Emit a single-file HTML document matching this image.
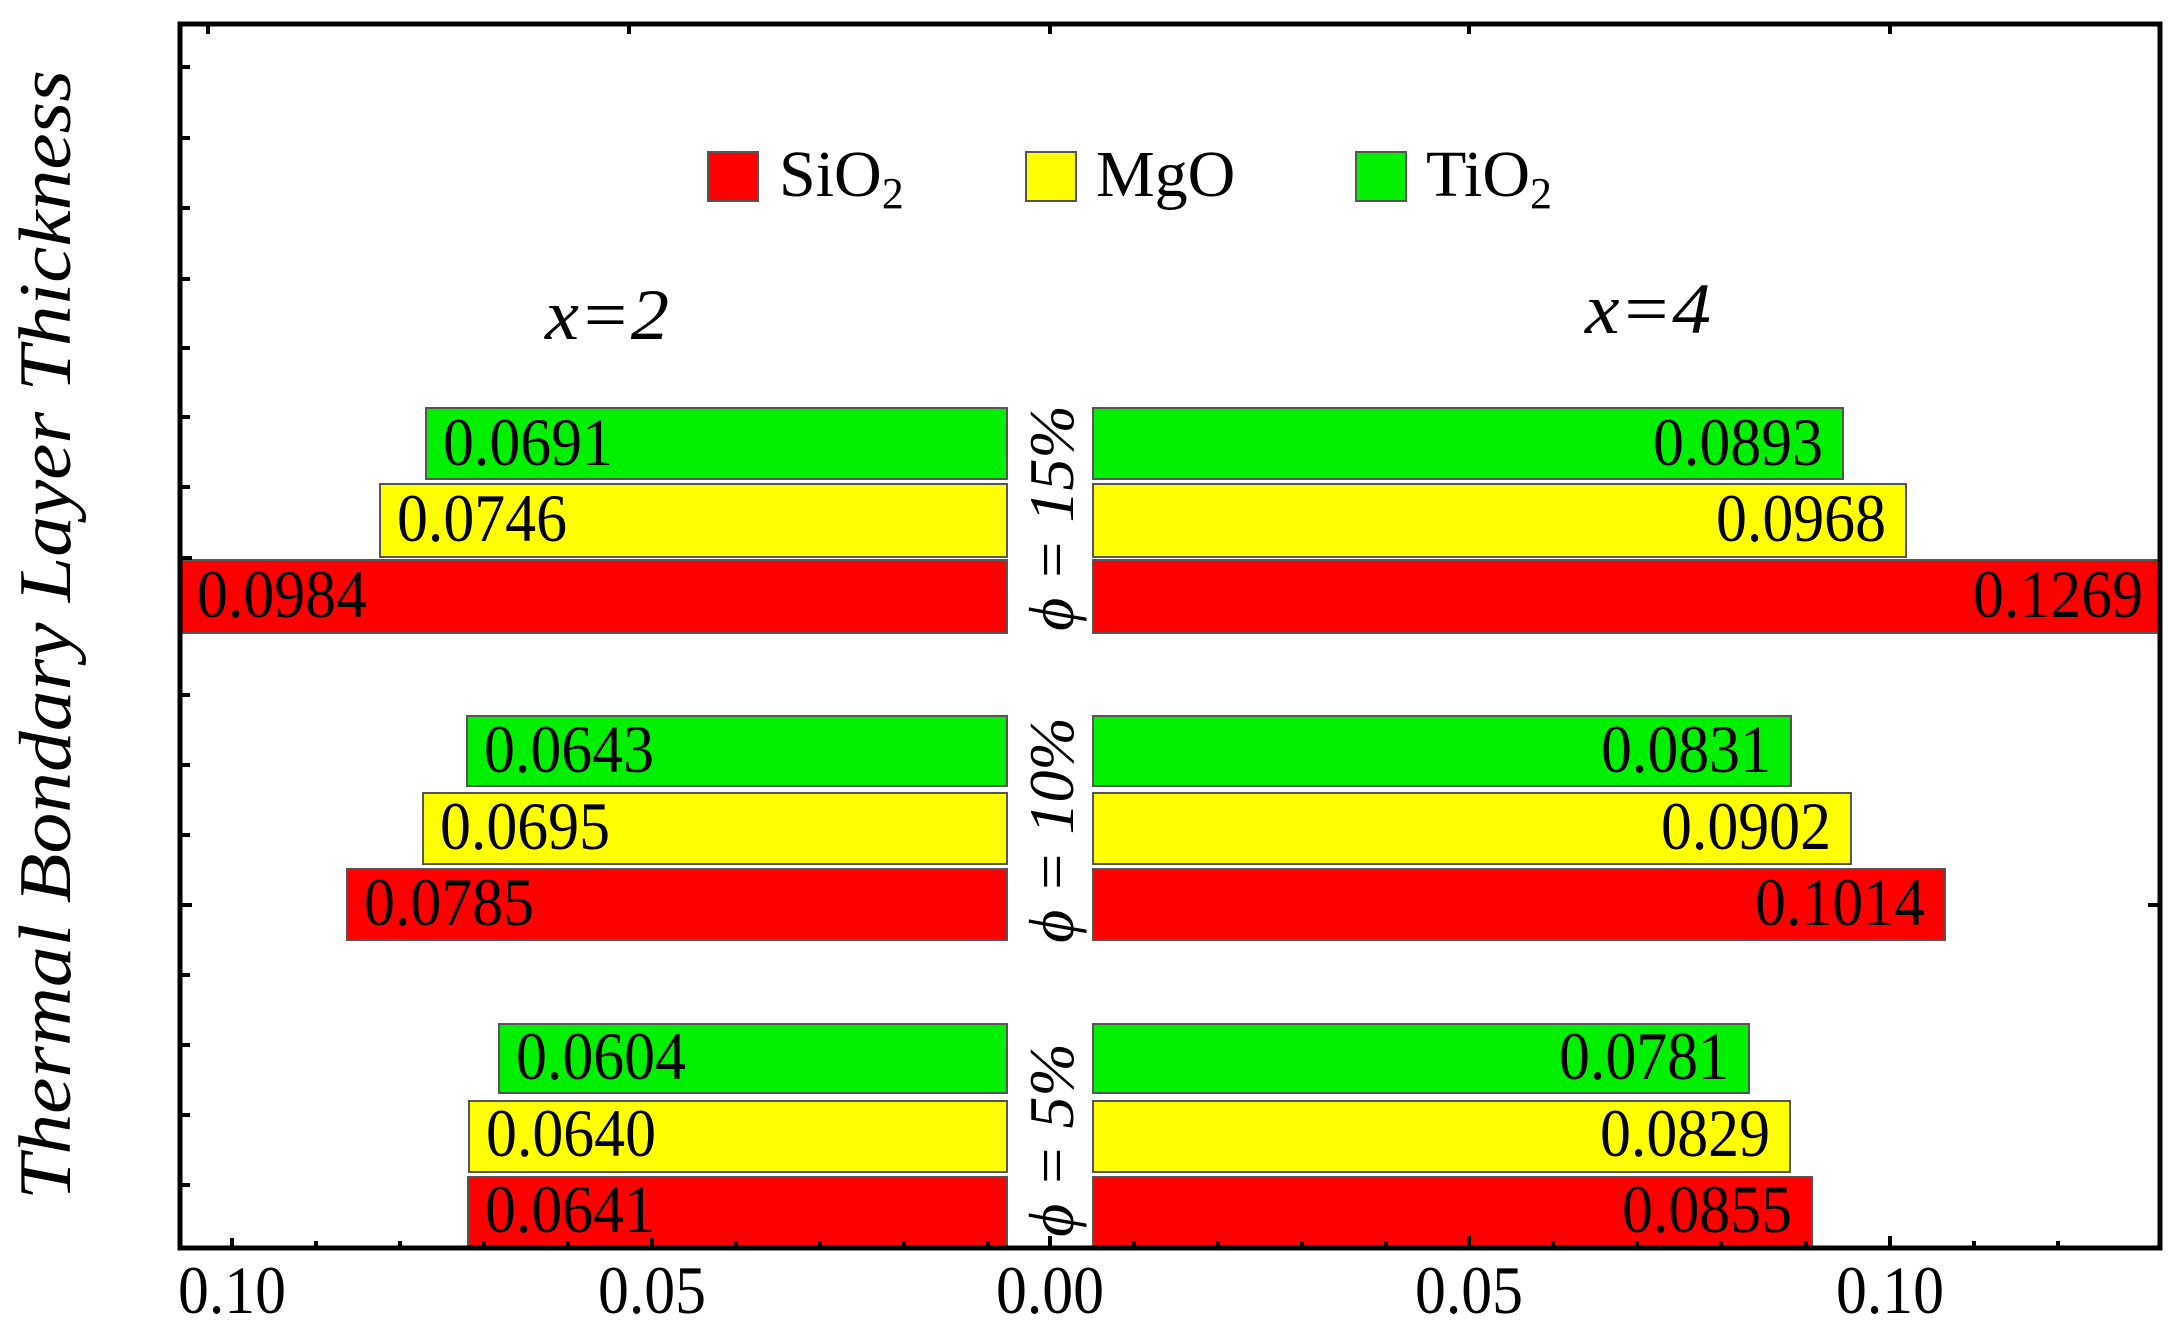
<!DOCTYPE html>
<html><head><meta charset="utf-8"><style>html,body{margin:0;padding:0;background:#fff}svg{display:block}</style></head>
<body>
<svg width="2175" height="1341" viewBox="0 0 2175 1341" xmlns="http://www.w3.org/2000/svg" font-family="'Liberation Serif', serif">
<rect width="2175" height="1341" fill="#fff"/>
<g stroke="#555" stroke-width="2">
<rect x="426" y="408" width="581" height="71" fill="#00f000"/>
<rect x="380" y="484" width="627" height="73" fill="#ffff00"/>
<rect x="180" y="560" width="827" height="73" fill="#ff0000"/>
<rect x="1093" y="408" width="750" height="71" fill="#00f000"/>
<rect x="1093" y="484" width="813" height="73" fill="#ffff00"/>
<rect x="1093" y="560" width="1066" height="73" fill="#ff0000"/>
<rect x="467" y="716" width="540" height="70" fill="#00f000"/>
<rect x="423" y="793" width="584" height="71" fill="#ffff00"/>
<rect x="347" y="869" width="660" height="71" fill="#ff0000"/>
<rect x="1093" y="716" width="698" height="70" fill="#00f000"/>
<rect x="1093" y="793" width="758" height="71" fill="#ffff00"/>
<rect x="1093" y="869" width="852" height="71" fill="#ff0000"/>
<rect x="499" y="1024" width="508" height="69" fill="#00f000"/>
<rect x="469" y="1101" width="538" height="71" fill="#ffff00"/>
<rect x="468" y="1177" width="539" height="70" fill="#ff0000"/>
<rect x="1093" y="1024" width="656" height="69" fill="#00f000"/>
<rect x="1093" y="1101" width="697" height="71" fill="#ffff00"/>
<rect x="1093" y="1177" width="719" height="70" fill="#ff0000"/>
</g>
<g font-size="68" fill="#000">
<text x="443" y="465" textLength="170" lengthAdjust="spacingAndGlyphs">0.0691</text>
<text x="397" y="541" textLength="170" lengthAdjust="spacingAndGlyphs">0.0746</text>
<text x="197" y="617" textLength="170" lengthAdjust="spacingAndGlyphs">0.0984</text>
<text x="484" y="772" textLength="170" lengthAdjust="spacingAndGlyphs">0.0643</text>
<text x="440" y="849" textLength="170" lengthAdjust="spacingAndGlyphs">0.0695</text>
<text x="364" y="925" textLength="170" lengthAdjust="spacingAndGlyphs">0.0785</text>
<text x="516" y="1079" textLength="170" lengthAdjust="spacingAndGlyphs">0.0604</text>
<text x="486" y="1156" textLength="170" lengthAdjust="spacingAndGlyphs">0.0640</text>
<text x="485" y="1232" textLength="170" lengthAdjust="spacingAndGlyphs">0.0641</text>
<text x="1653" y="465" textLength="170" lengthAdjust="spacingAndGlyphs">0.0893</text>
<text x="1716" y="541" textLength="170" lengthAdjust="spacingAndGlyphs">0.0968</text>
<text x="1973" y="617" textLength="170" lengthAdjust="spacingAndGlyphs">0.1269</text>
<text x="1601" y="772" textLength="170" lengthAdjust="spacingAndGlyphs">0.0831</text>
<text x="1661" y="849" textLength="170" lengthAdjust="spacingAndGlyphs">0.0902</text>
<text x="1755" y="925" textLength="170" lengthAdjust="spacingAndGlyphs">0.1014</text>
<text x="1559" y="1079" textLength="170" lengthAdjust="spacingAndGlyphs">0.0781</text>
<text x="1600" y="1156" textLength="170" lengthAdjust="spacingAndGlyphs">0.0829</text>
<text x="1622" y="1232" textLength="170" lengthAdjust="spacingAndGlyphs">0.0855</text>
</g>
<g font-size="64" font-style="italic" text-anchor="middle">
<text transform="translate(1073,518) rotate(-90)">ϕ = 15%</text>
<text transform="translate(1073,830) rotate(-90)">ϕ = 10%</text>
<text transform="translate(1073,1140) rotate(-90)">ϕ = 5%</text>
</g>
<g stroke="#555" stroke-width="2">
<rect x="708" y="152" width="50" height="49" fill="#ff0000"/>
<rect x="1026" y="152" width="50" height="49" fill="#ffff00"/>
<rect x="1356" y="152" width="50" height="49" fill="#00f000"/>
</g>
<g font-size="66">
<text x="779" y="196">SiO<tspan font-size="44" dy="12">2</tspan></text>
<text x="1096" y="196">MgO</text>
<text x="1426" y="196">TiO<tspan font-size="44" dy="12">2</tspan></text>
</g>
<g font-size="72" font-style="italic">
<text x="545" y="339" textLength="124" lengthAdjust="spacingAndGlyphs">x=2</text>
<text x="1585" y="333" textLength="126" lengthAdjust="spacingAndGlyphs">x=4</text>
</g>
<text transform="translate(70,1200) rotate(-90)" font-size="74" font-style="italic" textLength="1130" lengthAdjust="spacingAndGlyphs">Thermal Bondary Layer Thickness</text>
<rect x="180" y="24" width="1980" height="1224" fill="none" stroke="#000" stroke-width="5"/>
<g stroke="#000" stroke-width="4">
<line x1="182" y1="67" x2="190" y2="67"/><line x1="182" y1="138" x2="190" y2="138"/>
<line x1="182" y1="208" x2="190" y2="208"/><line x1="182" y1="279" x2="190" y2="279"/>
<line x1="182" y1="348" x2="190" y2="348"/><line x1="182" y1="417" x2="190" y2="417"/>
<line x1="182" y1="487" x2="190" y2="487"/><line x1="182" y1="558" x2="192" y2="558"/>
<line x1="182" y1="695" x2="190" y2="695"/><line x1="182" y1="765" x2="190" y2="765"/>
<line x1="182" y1="835" x2="190" y2="835"/><line x1="182" y1="905" x2="192" y2="905"/>
<line x1="182" y1="975" x2="190" y2="975"/><line x1="182" y1="1045" x2="190" y2="1045"/>
<line x1="182" y1="1115" x2="190" y2="1115"/><line x1="182" y1="1185" x2="190" y2="1185"/>
<line x1="2158" y1="905" x2="2148" y2="905"/>
<line x1="208" y1="26" x2="208" y2="34"/><line x1="629" y1="26" x2="629" y2="34"/><line x1="1050" y1="26" x2="1050" y2="34"/>
<line x1="1469" y1="26" x2="1469" y2="34"/><line x1="1890" y1="26" x2="1890" y2="34"/>
<line x1="232" y1="1246" x2="232" y2="1238"/><line x1="652" y1="1246" x2="652" y2="1238"/>
<line x1="1050" y1="1246" x2="1050" y2="1236"/><line x1="1469" y1="1246" x2="1469" y2="1236"/>
<line x1="1890" y1="1246" x2="1890" y2="1236"/>
<line x1="1134" y1="1246" x2="1134" y2="1241"/><line x1="1218" y1="1246" x2="1218" y2="1241"/>
<line x1="1302" y1="1246" x2="1302" y2="1241"/><line x1="1386" y1="1246" x2="1386" y2="1241"/>
<line x1="1553" y1="1246" x2="1553" y2="1241"/><line x1="1637" y1="1246" x2="1637" y2="1241"/>
<line x1="1721" y1="1246" x2="1721" y2="1241"/><line x1="1806" y1="1246" x2="1806" y2="1241"/>
<line x1="1974" y1="1246" x2="1974" y2="1241"/><line x1="2058" y1="1246" x2="2058" y2="1241"/>
<line x1="316" y1="1246" x2="316" y2="1241"/><line x1="400" y1="1246" x2="400" y2="1241"/>
<line x1="484" y1="1246" x2="484" y2="1241"/><line x1="568" y1="1246" x2="568" y2="1241"/>
<line x1="736" y1="1246" x2="736" y2="1241"/><line x1="820" y1="1246" x2="820" y2="1241"/>
<line x1="904" y1="1246" x2="904" y2="1241"/><line x1="988" y1="1246" x2="988" y2="1241"/>
</g>
<g font-size="68" text-anchor="middle">
<text x="232" y="1313" textLength="108" lengthAdjust="spacingAndGlyphs">0.10</text>
<text x="652" y="1313" textLength="108" lengthAdjust="spacingAndGlyphs">0.05</text>
<text x="1050" y="1313" textLength="108" lengthAdjust="spacingAndGlyphs">0.00</text>
<text x="1469" y="1313" textLength="108" lengthAdjust="spacingAndGlyphs">0.05</text>
<text x="1890" y="1313" textLength="108" lengthAdjust="spacingAndGlyphs">0.10</text>
</g>
</svg>
</body></html>
